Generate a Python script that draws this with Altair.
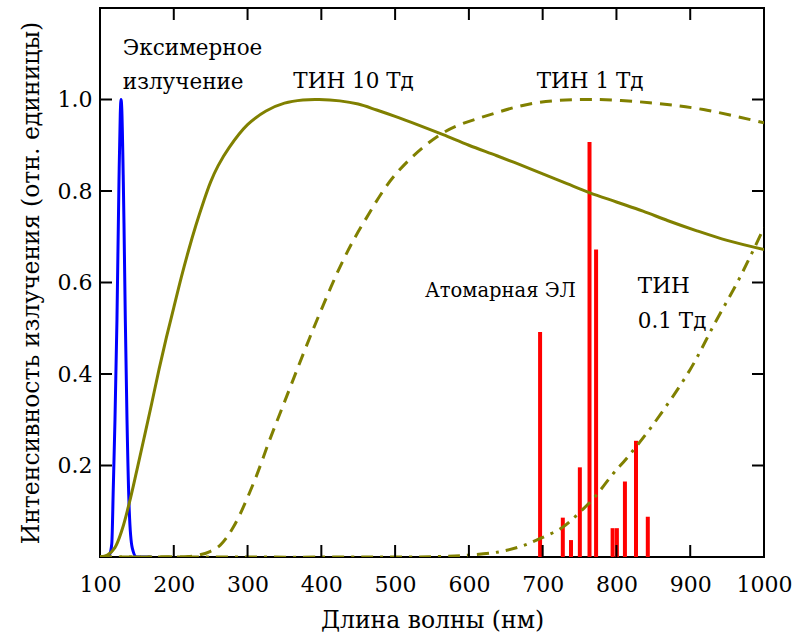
import altair as alt
import pandas as pd

# ---- data ----
tin10_wl = [100, 110, 120, 130, 140, 150, 160, 170, 180, 190, 200, 210, 220, 230, 240, 250, 260, 275, 300, 325, 350, 375, 397, 425, 450, 475, 500, 530, 565, 600, 638, 670, 701, 733, 764, 800, 836, 870, 909, 950, 1000]
tin10_int = [0.0, 0.004, 0.02, 0.06, 0.12, 0.19, 0.262, 0.335, 0.41, 0.48, 0.545, 0.61, 0.67, 0.725, 0.775, 0.82, 0.855, 0.895, 0.945, 0.975, 0.992, 0.999, 1.0, 0.997, 0.99, 0.977, 0.963, 0.945, 0.923, 0.9, 0.877, 0.857, 0.837, 0.816, 0.796, 0.776, 0.756, 0.735, 0.713, 0.692, 0.672]

tin1_wl = [100, 200, 230, 249, 263, 281, 308, 330, 353, 376, 398, 430, 457, 502, 565, 629, 692, 764, 845, 918, 1000]
tin1_int = [0.0, 0.0005, 0.003, 0.012, 0.026, 0.066, 0.161, 0.256, 0.351, 0.446, 0.533, 0.65, 0.73, 0.839, 0.927, 0.967, 0.993, 1.0, 0.993, 0.978, 0.949]

tin01_wl = [100, 500, 560, 600, 640, 670, 696, 728, 751, 769, 796, 814, 850, 900, 933, 967, 1000]
tin01_int = [0.0, 0.0, 0.001, 0.004, 0.011, 0.023, 0.04, 0.066, 0.099, 0.128, 0.183, 0.216, 0.29, 0.41, 0.51, 0.61, 0.72]

exc_wl = [100, 110, 113, 116, 118, 120.3, 123, 125.7, 127.5, 128.5, 129.5, 131.6, 132.5, 134.3, 136.6, 139.7, 143.7, 149.6, 160, 170]
exc_int = [0.0, 0.0, 0.005, 0.03, 0.15, 0.3, 0.52, 0.82, 0.97, 1.0, 0.98, 0.82, 0.73, 0.52, 0.3, 0.1, 0.02, 0.0, 0.0, 0.0]

ar_wl = [696.5, 727.3, 738.4, 750.4, 763.5, 772.4, 794.8, 800.6, 811.5, 826.5, 842.5]
ar_int = [0.492, 0.086, 0.037, 0.196, 0.907, 0.672, 0.063, 0.063, 0.165, 0.254, 0.088]

x_tick_values = [100, 200, 300, 400, 500, 600, 700, 800, 900, 1000]
x_inner_ticks = [200, 300, 400, 500, 600, 700, 800, 900]
y_tick_values = [0.2, 0.4, 0.6, 0.8, 1.0]

ann_big_text = ["Эксимерное", "излучение", "ТИН 10 Тд", "ТИН 1 Тд", "ТИН", "0.1 Тд"]
ann_big_x = [131, 131, 362, 692, 829, 829]
ann_big_y = [1.098, 1.024, 1.026, 1.026, 0.578, 0.501]
ann_small_text = ["Атомарная ЭЛ"]
ann_small_x = [540.5]
ann_small_y = [0.569]

FONT = "DejaVu Serif"
OLIVE = "#808000"
W, H = 664, 549

xs = alt.Scale(domain=[100, 1000], nice=False, zero=False)
ys = alt.Scale(domain=[0, 1.2], nice=False, zero=True)

xaxis = alt.Axis(values=x_tick_values, format="d", ticks=False, tickSize=0, domain=False, grid=False,
                 labelPadding=34, labelBaseline="alphabetic", labelFontSize=22, labelFont=FONT,
                 labelFlush=False, labelOverlap=False,
                 labelColor="black", title="Длина волны (нм)", titleFont=FONT, titleFontSize=23.5,
                 titleFontWeight="normal", titleColor="black", titleBaseline="alphabetic",
                 titleX=W / 2, titleY=70, titleAlign="center")
yaxis = alt.Axis(values=y_tick_values, format=".1f", ticks=False, tickSize=0, domain=False, grid=False,
                 labelPadding=8, labelFontSize=22, labelFont=FONT, labelColor="black",
                 labelFlush=False, labelOverlap=False,
                 title="Интенсивность излучения (отн. единицы)", titleFont=FONT, titleFontSize=23.5,
                 titleFontWeight="normal", titleColor="black", titleBaseline="alphabetic",
                 titleAngle=270, titleX=-62, titleY=H / 2, titleAlign="center")

def curve(wl, val):
    return pd.DataFrame({"wl": wl, "val": val})

base_x = alt.X("wl:Q", scale=xs, axis=xaxis)
base_y = alt.Y("val:Q", scale=ys, axis=yaxis)

red = alt.Chart(pd.DataFrame({"wl": ar_wl, "val": ar_int, "zero": [0.0] * len(ar_wl)})).mark_rule(
    color="#ff0000", strokeWidth=4).encode(x=base_x, y=base_y, y2="zero:Q")

blue = alt.Chart(curve(exc_wl, exc_int)).mark_line(color="#0000ff", strokeWidth=3, interpolate="monotone", clip=True).encode(
    x=alt.X("wl:Q", scale=xs), y=alt.Y("val:Q", scale=ys))

tin10 = alt.Chart(curve(tin10_wl, tin10_int)).mark_line(color=OLIVE, strokeWidth=3, interpolate="catmull-rom", clip=True).encode(
    x=alt.X("wl:Q", scale=xs), y=alt.Y("val:Q", scale=ys))
tin1 = alt.Chart(curve(tin1_wl, tin1_int)).mark_line(color=OLIVE, strokeWidth=3, strokeDash=[12, 8], interpolate="catmull-rom", clip=True).encode(
    x=alt.X("wl:Q", scale=xs), y=alt.Y("val:Q", scale=ys))
tin01 = alt.Chart(curve(tin01_wl, tin01_int)).mark_line(color=OLIVE, strokeWidth=3, strokeDash=[12, 7, 3, 7], interpolate="catmull-rom", clip=True).encode(
    x=alt.X("wl:Q", scale=xs), y=alt.Y("val:Q", scale=ys))

ann_big = alt.Chart(pd.DataFrame({"wl": ann_big_x, "val": ann_big_y, "t": ann_big_text})).mark_text(
    font=FONT, fontSize=21.5, align="left", baseline="alphabetic", color="black").encode(
    x=alt.X("wl:Q", scale=xs), y=alt.Y("val:Q", scale=ys), text="t:N")
ann_small = alt.Chart(pd.DataFrame({"wl": ann_small_x, "val": ann_small_y, "t": ann_small_text})).mark_text(
    font=FONT, fontSize=19.5, align="left", baseline="alphabetic", color="black").encode(
    x=alt.X("wl:Q", scale=xs), y=alt.Y("val:Q", scale=ys), text="t:N")

TL = 12
xt = pd.DataFrame({"wl": x_inner_ticks})
yt = pd.DataFrame({"val": y_tick_values})
tick_b = alt.Chart(xt).mark_rule(color="black", strokeWidth=2).encode(
    x=alt.X("wl:Q", scale=xs), y=alt.value(H), y2=alt.value(H - TL))
tick_t = alt.Chart(xt).mark_rule(color="black", strokeWidth=2).encode(
    x=alt.X("wl:Q", scale=xs), y=alt.value(0), y2=alt.value(TL))
tick_l = alt.Chart(yt).mark_rule(color="black", strokeWidth=2).encode(
    y=alt.Y("val:Q", scale=ys), x=alt.value(0), x2=alt.value(TL))
tick_r = alt.Chart(yt).mark_rule(color="black", strokeWidth=2).encode(
    y=alt.Y("val:Q", scale=ys), x=alt.value(W), x2=alt.value(W - TL))

chart = alt.layer(red, blue, tin10, tin1, tin01, ann_big, ann_small, tick_b, tick_t, tick_l, tick_r).properties(
    width=W, height=H,
    autosize=alt.AutoSizeParams(type="none"),
    padding={"left": 100, "top": 8, "right": 30, "bottom": 82},
    background="white",
).configure_view(stroke="black", strokeWidth=2)

chart.save("out.html", embed_options={"renderer": "svg", "actions": False})
